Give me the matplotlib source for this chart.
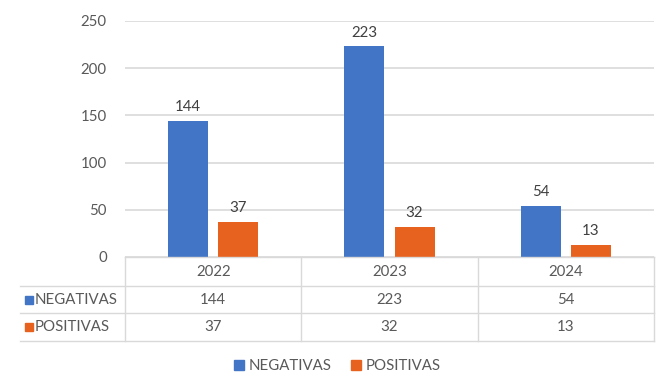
import matplotlib.pyplot as plt
import matplotlib.transforms as mtransforms
from matplotlib.lines import Line2D
from matplotlib.patches import Rectangle
import numpy as np

# data
years = ['2022', '2023', '2024']
negativas = [144, 223, 54]
positivas = [37, 32, 13]
series_names = ['NEGATIVAS', 'POSITIVAS']

colors = ['#4275c6', '#e8621f']
txtColor = '#595959'
gridColor = '#d9d9d9'
fs = 10.8

plt.rcParams['font.family'] = ['Lato', 'DejaVu Sans']
plt.rcParams['font.size'] = fs

W, H = 661, 375
fig = plt.figure(figsize=(W / 100, H / 100), dpi=100)
fig.patch.set_facecolor('white')

# plot area in pixel coords of the reference
pxL, pxR, pxT, pxB = 125, 654, 21, 257
ax = fig.add_axes([pxL / W, 1 - pxB / H, (pxR - pxL) / W, (pxB - pxT) / H])

x = np.arange(len(years))
barW = 0.227
off = 0.142
series = [negativas, positivas]
for i, vals in enumerate(series):
    bars = ax.bar(x + (2 * i - 1) * off, vals, width=barW, color=colors[i], zorder=3)
    for b, v in zip(bars, vals):
        ax.annotate(str(v), (b.get_x() + b.get_width() / 2, v), xytext=(0, 5),
                    textcoords='offset points', ha='center', va='bottom',
                    color='#404040', fontsize=fs)

ax.set_xlim(-0.5, 2.5)
ax.set_ylim(0, 250)
ax.set_yticks(range(0, 251, 50))
ax.yaxis.grid(True, color=gridColor, linewidth=1.2, zorder=0)
ax.set_xticks([])
ax.tick_params(axis='y', length=0, pad=13, labelcolor=txtColor, labelsize=fs)
for s in ax.spines.values():
    s.set_visible(False)

# data table below the plot area (x in data units, y in figure pixels)
def fy(py):
    return 1 - py / H

trans = mtransforms.blended_transform_factory(ax.transData, fig.transFigure)
rowY = [257, 286, 313, 341]
tableLines = dict(color=gridColor, linewidth=1.0, transform=fig.transFigure, clip_on=False)

# horizontal borders
fig.add_artist(Line2D([pxL / W, pxR / W], [fy(rowY[0])] * 2, **tableLines))
for py in rowY[1:]:
    fig.add_artist(Line2D([20 / W, pxR / W], [fy(py)] * 2, **tableLines))
# vertical borders
for k in range(len(years) + 1):
    xf = (pxL + k * (pxR - pxL) / len(years)) / W
    fig.add_artist(Line2D([xf, xf], [fy(rowY[0]), fy(rowY[-1])], **tableLines))

# header row with the years
for k, yr in enumerate(years):
    ax.text(k, fy((rowY[0] + rowY[1]) / 2), yr, transform=trans, ha='center',
            va='center', color=txtColor, fontsize=fs)

# value rows
for i, vals in enumerate(series):
    ycPx = (rowY[i + 1] + rowY[i + 2]) / 2
    yc = fy(ycPx)
    fig.add_artist(Rectangle((25 / W, fy(ycPx + 4)), 8 / W, 8 / H, color=colors[i],
                             transform=fig.transFigure))
    fig.text(35 / W, yc, series_names[i], color=txtColor, ha='left', va='center', fontsize=fs)
    for k, v in enumerate(vals):
        ax.text(k, yc, str(v), transform=trans, ha='center', va='center',
                color=txtColor, fontsize=fs)

# legend
handles = [Line2D([], [], marker='s', linestyle='', markersize=7, color=c) for c in colors]
fig.legend(handles, series_names, loc='center', bbox_to_anchor=(337 / W, fy(366)),
           ncol=2, frameon=False, handlelength=0.7, handletextpad=0.3,
           columnspacing=1.3, labelcolor=txtColor, fontsize=fs)

fig.savefig('out.png', dpi=100, facecolor='white')
